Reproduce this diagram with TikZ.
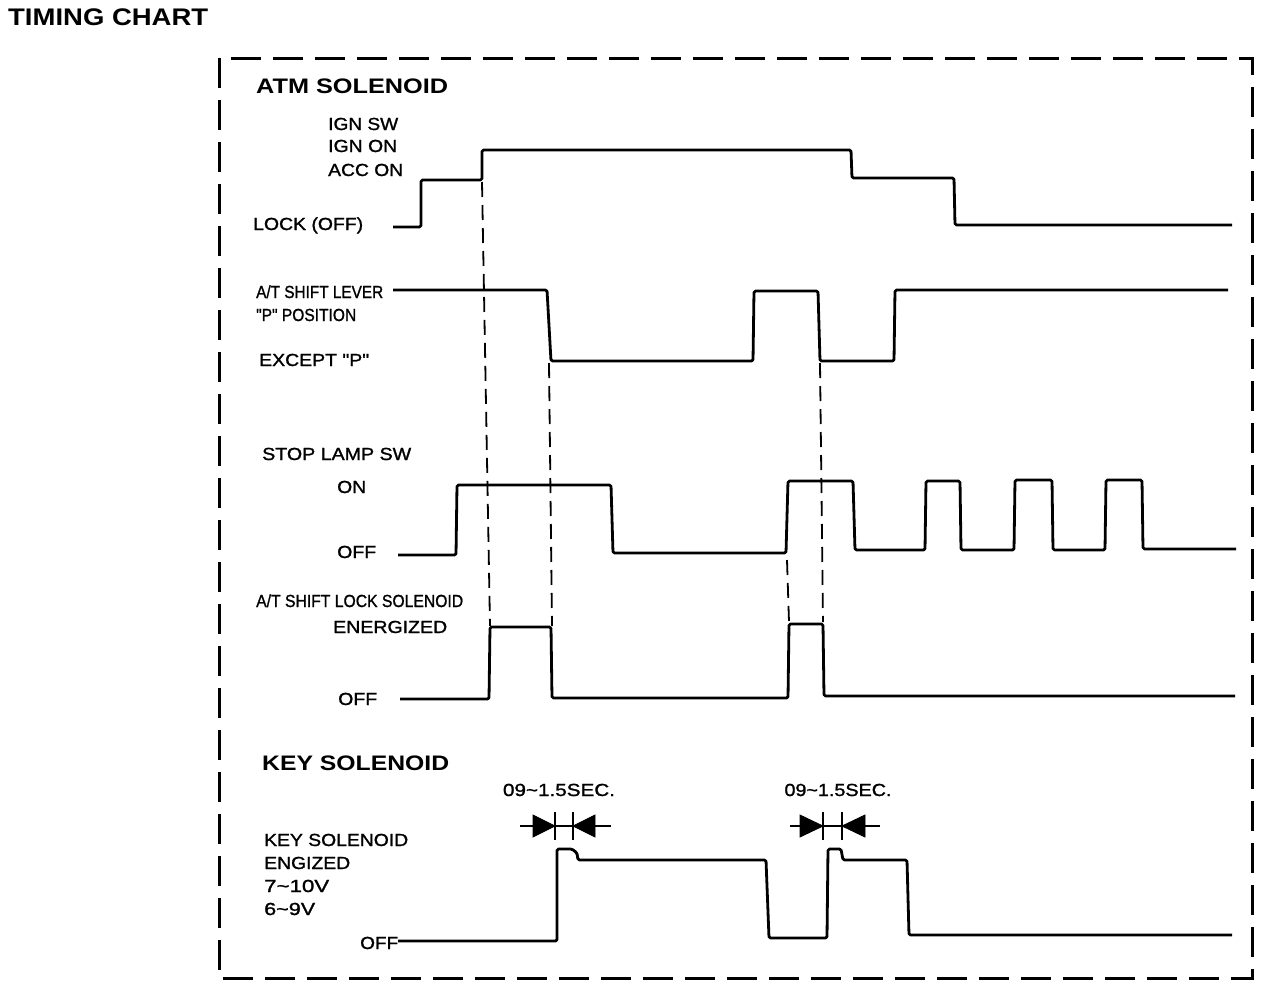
\documentclass[tikz,border=0pt]{standalone}
\usepackage{fontspec}
\setmainfont{Liberation Sans}
\newfontfamily\scanfont[FakeBold=1.2]{Liberation Sans}
\usepackage{graphicx}
\newcommand{\fitw}[2]{\resizebox{#1pt}{\height}{#2}}
\newcommand{\qq}{\textquotedbl}
\begin{document}
\begin{tikzpicture}[x=1pt,y=-1pt,
  wave/.style={line width=2.8pt, line join=round, rounded corners=1.5pt},
  guide/.style={line width=1.8pt, dash pattern=on 15pt off 8pt},
  frame/.style={line width=3pt, dash pattern=on 30pt off 12pt},
  lbl/.style={inner sep=0pt, anchor=base west, font=\scanfont\fontsize{17.5}{20}\selectfont},
  hd/.style={inner sep=0pt, anchor=base west, font=\bfseries\fontsize{21}{24}\selectfont},
  ttl/.style={inner sep=0pt, anchor=base west, font=\bfseries\fontsize{24}{28}\selectfont},
  tip/.style={fill=black, draw=black, line width=0.8pt},
  tick/.style={line width=2.2pt},
]
\useasboundingbox (0,0) rectangle (1280,986);
\fill[white] (0,0) rectangle (1280,986);

% title and frame
\node[ttl] (title) at (8,25) {\fitw{200}{TIMING CHART}};
\draw[frame] (219,58) rectangle (1252,978);

% headings
\node[hd] (atm) at (256,93) {\fitw{192}{ATM SOLENOID}};
\node[hd] (keyh) at (262,770) {\fitw{187}{KEY SOLENOID}};

% IGN labels
\node[lbl] (ignsw) at (328,130) {\fitw{70}{IGN SW}};
\node[lbl] (ignon) at (328,152) {\fitw{69}{IGN ON}};
\node[lbl] (accon) at (328,176) {\fitw{75}{ACC ON}};
\node[lbl] (lock) at (253,230) {\fitw{110}{LOCK (OFF)}};

% shift lever labels
\node[lbl] (atlever) at (256,298) {\fitw{127}{A/T SHIFT LEVER}};
\node[lbl] (ppos) at (256,321) {\fitw{100}{\qq P\qq{} POSITION}};
\node[lbl] (exc) at (259,366) {\fitw{110}{EXCEPT \qq P\qq}};

% stop lamp labels
\node[lbl] (stop) at (262,460) {\fitw{149}{STOP LAMP SW}};
\node[lbl] (slon) at (337,493) {\fitw{29}{ON}};
\node[lbl] (sloff) at (337,558) {\fitw{39}{OFF}};

% shift lock solenoid labels
\node[lbl] (atlock) at (256,607) {\fitw{207}{A/T SHIFT LOCK SOLENOID}};
\node[lbl] (ener) at (333,633) {\fitw{114}{ENERGIZED}};
\node[lbl] (lkoff) at (338,705) {\fitw{39}{OFF}};

% key solenoid labels
\node[lbl] (ks) at (264,846) {\fitw{144}{KEY SOLENOID}};
\node[lbl] (eng) at (264,869) {\fitw{86}{ENGIZED}};
\node[lbl] (v1) at (264,892) {\fitw{65}{7\textasciitilde10V}};
\node[lbl] (v2) at (264,915) {\fitw{51}{6\textasciitilde9V}};
\node[lbl] (koff) at (360,949) {\fitw{38}{OFF}};
\node[lbl, anchor=base] (sec1) at (559,796) {\fitw{112}{09\textasciitilde1.5SEC.}};
\node[lbl, anchor=base] (sec2) at (838,796) {\fitw{107}{09\textasciitilde1.5SEC.}};

% waveforms
\draw[wave] (393,227) -- (421,227) -- (421,180) -- (482,180) -- (482,150) -- (851,150)
  -- (852,178) -- (954,178) -- (955,225) -- (1232,225);
\draw[wave] (393,290) -- (547,290) -- (551,361) -- (753,361) -- (754,291) -- (818,291)
  -- (820,361) -- (894,361) -- (895,290) -- (1228,290);
\draw[wave] (398,555) -- (456,555) -- (457,485) -- (611,485) -- (613,553) -- (786,553)
  -- (788,481) -- (853,481) -- (855,550) -- (925,550) -- (926,481) -- (960,481)
  -- (961,550) -- (1014,550) -- (1015,480) -- (1052,480) -- (1053,550) -- (1105,550)
  -- (1106,480) -- (1142,480) -- (1143,549) -- (1236,549);
\draw[wave] (400,699) -- (489,699) -- (490,627) -- (551,627) -- (552,698) -- (788,698)
  -- (789,624) -- (823,624) -- (824,696) -- (1235,696);
\draw[wave] (398,941) -- (557,941) -- (557,849) -- (572,849) -- (577,853) -- (578,860)
  -- (766,860) -- (769,938) -- (827,938) -- (828,849) -- (841,849) -- (843,860)
  -- (907,860) -- (909,935) -- (1232,935);

% dashed guide lines
\draw[guide] (482,182) -- (490,626);
\draw[guide] (549,363) -- (552,626);
\draw[guide] (820,363) -- (823,622);
\draw[guide] (787,560) -- (789,622);

% duration markers
\draw[tick] (520,826) -- (611,826);
\fill[tip] (533,815) -- (555,826) -- (533,837) -- cycle;
\draw[tick] (555,812) -- (555,840);
\draw[tick] (573,812) -- (573,840);
\fill[tip] (595,815) -- (573,826) -- (595,837) -- cycle;
\draw[tick] (790,826) -- (880,826);
\fill[tip] (800,815) -- (823,826) -- (800,837) -- cycle;
\draw[tick] (823,812) -- (823,840);
\draw[tick] (842,812) -- (842,840);
\fill[tip] (865,815) -- (842,826) -- (865,837) -- cycle;
\end{tikzpicture}
\end{document}
